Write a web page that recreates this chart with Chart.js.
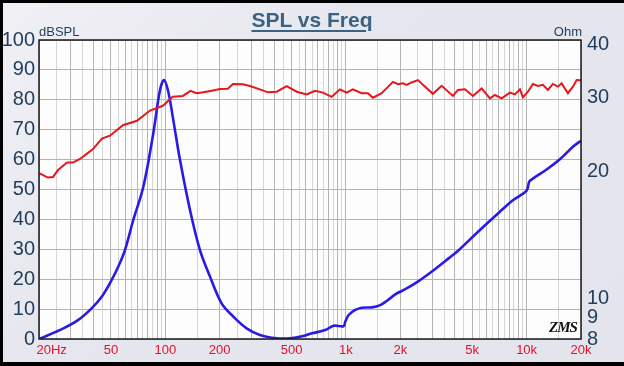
<!DOCTYPE html>
<html>
<head>
<meta charset="utf-8">
<script src="https://cdn.jsdelivr.net/npm/chart.js@4"></script>
<style>
  html,body{margin:0;padding:0;}
  body{width:624px;height:366px;overflow:hidden;position:relative;background:linear-gradient(135deg,#f0f0f5 0%,#e6e6ee 40%,#e4e4ec 100%);font-family:"Liberation Sans",Arial,sans-serif;}
  #c{position:absolute;left:0;top:0;}
  .lbl{position:absolute;white-space:nowrap;line-height:1;}
  #title{left:0;width:624px;top:9px;text-align:center;font-weight:bold;font-size:21px;color:#3a6283;text-decoration:underline;text-decoration-thickness:2px;text-underline-offset:3px;}
  #frame{position:absolute;left:0;top:0;width:624px;height:366px;box-sizing:border-box;border-top:3px solid #000;border-left:3px solid #000;border-bottom:4px solid #000;pointer-events:none;}
</style>
</head>
<body>
<canvas id="c" width="624" height="366"></canvas>
<div class="lbl" id="title">SPL vs Freq</div>
<div class="lbl" style="left:39px;top:25px;font-size:13px;color:#1f3d5c;">dBSPL</div>
<div class="lbl" style="right:42px;top:25px;font-size:13px;color:#1f3d5c;">Ohm</div>
<div class="lbl" style="left:549px;top:320px;font-size:15px;font-style:italic;font-weight:bold;font-family:'Liberation Serif',serif;color:#111;letter-spacing:-1px;">ZMS</div>
<div id="frame"></div>
<script>
// ---- data ----
const splFreq = [20,22.4,23.9,25.5,28.6,30.8,33.7,36.9,39.8,44.6,49.4,58.3,69.7,82.3,97,110,125,138,149,162,181,201,222,237,269,294,334,370,414,470,534,606,674,746,834,926,1009,1093,1221,1324,1411,1576,1820,1940,2067,2167,2310,2504,2668,3030,3386,3910,4168,4557,5046,5636,6266,6678,7272,8084,8616,9184,9542,10166,10834,11550,12310,13118,13982,14904,15624,16926,18044,18912,20000];
const splDb = [55.5,54,54.2,56.5,59,59,60.2,62,63.5,67,68,71.5,73,76.4,78,81,81.3,83,82.2,82.5,83,83.6,83.7,85.3,85.2,84.6,83.5,82.5,82.7,84.6,82.7,81.8,83,82.4,81,83.5,82.4,83.5,82.2,82.2,80.7,82.2,86,85.2,85.5,85,85.8,86.6,85,82,84.7,81.3,83.3,83.5,81.3,83.8,80.5,81.6,80.5,82.4,81.8,83.5,80.8,82.7,85.3,84.6,85,83.3,85.3,84.4,85.5,82.2,84.4,86.6,86.5];

const impFreq = [20,27.3,33,39.1,44.5,49.4,54.9,59.8,66.5,75.6,85.8,93.5,98.4,103.9,110.7,120.6,137,155.6,176.8,205,238,282,334,414,490,580,648,768,855,971,991,1035,1126,1226,1393,1548,1687,1874,2129,2524,3121,3702,4204,5516,7116,8432,10000,10338,10878,12900,15280,18110,20000];
const impOhm = [8.0,8.48,8.88,9.46,10.08,10.85,11.87,13.0,15.33,18.38,24.6,31.2,32.96,30.9,26.5,21.3,16.2,13.0,11.25,9.72,9.04,8.48,8.18,8.03,8.03,8.13,8.25,8.40,8.60,8.58,8.79,9.12,9.38,9.49,9.51,9.63,9.86,10.21,10.50,10.98,11.73,12.43,13.0,14.52,16.04,17.1,17.99,18.9,19.25,20.2,21.36,22.9,23.65];

// ---- tick labels ----
const xLabelValues = [20,50,100,200,500,1000,2000,5000,10000,20000];
const xLabelTexts  = ['20Hz','50','100','200','500','1k','2k','5k','10k','20k'];
const ohmTicks = [8,9,10,20,30,40];
const decadeStarts = [10,100,1000,10000];
const gridSteps = [1,1.5,2,2.5,3,3.5,4,4.5,5,5.5,6,6.5,7,7.5,8,8.5,9,9.5];

const xGrid = [];
decadeStarts.forEach(d => gridSteps.forEach(s => { const v = d*s; if (v >= 20 && v <= 20000) xGrid.push(v); }));
if (!xGrid.includes(20000)) xGrid.push(20000);
const isMajorX = v => { const d = Math.pow(10, Math.floor(Math.log10(v)+1e-9)); return Math.abs(v/d - Math.round(v/d)) < 1e-6; };

const plotBg = {
  id:'plotBg',
  beforeDraw(chart){
    const {ctx, chartArea:a} = chart;
    ctx.save(); ctx.fillStyle='#fdfdfd'; ctx.fillRect(a.left,a.top,a.right-a.left,a.bottom-a.top); ctx.restore();
  },
  afterDatasetsDraw(chart){
    const {ctx, chartArea:a} = chart;
    ctx.save(); ctx.strokeStyle='#1a1a1a'; ctx.lineWidth=1.5;
    ctx.strokeRect(a.left,a.top,a.right-a.left,a.bottom-a.top); ctx.restore();
  }
};

new Chart(document.getElementById('c'), {
  type:'line',
  data:{
    datasets:[
      {label:'SPL', data: splFreq.map((f,i)=>({x:f,y:splDb[i]})), yAxisID:'y', borderColor:'#e8161c', borderWidth:2, pointRadius:0, tension:0},
      {label:'Impedance', data: impFreq.map((f,i)=>({x:f,y:impOhm[i]})), yAxisID:'y2', borderColor:'#2a1ae6', borderWidth:2.6, pointRadius:0, tension:0.35}
    ]
  },
  options:{
    responsive:false, animation:false,
    layout:{padding:{top:40,left:0,right:0,bottom:0}},
    plugins:{legend:{display:false}, tooltip:{enabled:false}, title:{display:false}},
    scales:{
      x:{
        type:'logarithmic', min:20, max:20000, position:'bottom',
        afterBuildTicks: s => { s.ticks = xGrid.map(v=>({value:v})); },
        afterFit: s => { s.height = 27; },
        grid:{drawTicks:false, color: c => (c.tick && isMajorX(c.tick.value)) ? '#b4b4b4' : '#d6d6d6', lineWidth:1},
        border:{display:false},
        ticks:{autoSkip:false, maxRotation:0, padding:4, color:'#e0102e',
          font:{family:'"Liberation Sans", Arial, sans-serif', size:13},
          callback: v => { const i = xLabelValues.indexOf(v); return i < 0 ? '' : (i===0 ? '       '+xLabelTexts[i] : xLabelTexts[i]); }
        }
      },
      y:{
        type:'linear', min:0, max:100, position:'left',
        afterFit: s => { s.width = 39; },
        grid:{drawTicks:false, color: c => (c.tick && c.tick.value % 10 === 0) ? '#b4b4b4' : '#d6d6d6'},
        border:{display:false},
        ticks:{stepSize:5, padding:4, color:'#1f3d5c',
          font:{family:'"Liberation Sans", Arial, sans-serif', size:20},
          callback: v => v % 10 === 0 ? String(v) : ''
        }
      },
      y2:{
        type:'logarithmic', min:8, max:41, position:'right',
        afterBuildTicks: s => { s.ticks = ohmTicks.map(v=>({value:v})); },
        afterFit: s => { s.width = 43; },
        grid:{display:false, drawTicks:false},
        border:{display:false},
        ticks:{autoSkip:false, padding:6, color:'#1f3d5c',
          font:{family:'"Liberation Sans", Arial, sans-serif', size:20},
          callback: v => String(v)
        }
      }
    }
  },
  plugins:[plotBg]
});
</script>
</body>
</html>
